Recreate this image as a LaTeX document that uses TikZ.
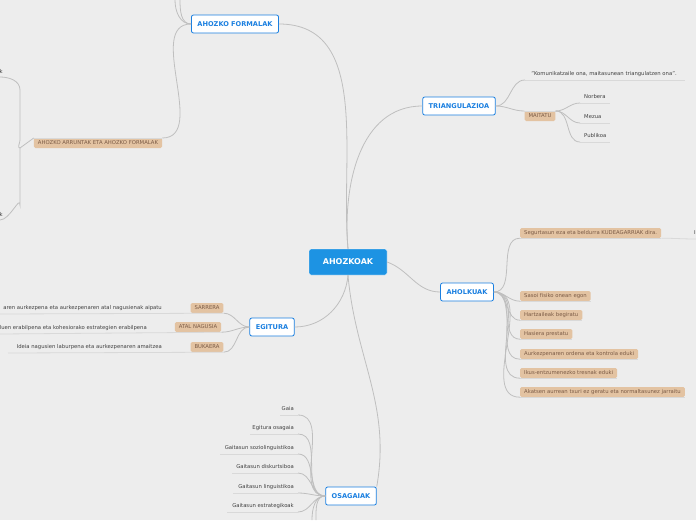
\documentclass[tikz,border=0pt]{standalone}
\usepackage{fontspec}
\setmainfont[Ligatures=NoCommon]{DejaVu Sans}
\begin{document}
\begin{tikzpicture}[x=1pt,y=-1pt,
  conn/.style={draw=black!25,line width=0.8pt},
  ul/.style={draw=black!15,line width=0.8pt},
  root/.style={draw=white,fill=rootblue,rounded corners=2pt,text=white,font=\bfseries\fontsize{8}{9}\selectfont,minimum width=78pt,minimum height=26pt},
  br/.style={draw=branchblue,line width=0.8pt,fill=white,rounded corners=2pt,text=branchblue,font=\bfseries\fontsize{6.6}{7}\selectfont,minimum height=18pt,inner xsep=6pt},
  leaf/.style={fill=leafbg,rounded corners=1.5pt,text=leaftext,font=\fontsize{5.3}{6}\selectfont,minimum height=10pt,inner xsep=4pt,inner ysep=1pt},
  txt/.style={text=black!75,font=\fontsize{5.3}{6}\selectfont,inner sep=1pt}]
\definecolor{rootblue}{HTML}{1D93E3}
\definecolor{branchblue}{HTML}{1A7FE0}
\definecolor{leafbg}{HTML}{E3C3A2}
\definecolor{leaftext}{HTML}{7A5A45}
\fill[black!7] (0,0) rectangle (696,520);
\useasboundingbox (0,0) rectangle (696,520);

\node[root] (root) at (348,262) {AHOZKOAK};

% AHOZKO FORMALAK
\node[br] (af) at (235,24) {AHOZKO FORMALAK};
\coordinate (t1) at (175,0); \coordinate (t2) at (180,0);
\draw[conn] (af.west) to[out=180,in=270] (t1);
\draw[conn] (af.west) to[out=180,in=270] (t2);
\node[leaf] (aa) at (98,143) {AHOZKO ARRUNTAK ETA AHOZKO FORMALAK};
\draw[conn] (af.west) to[out=180,in=0] ([yshift=5]aa.east);
\draw[ul] ([yshift=5]aa.west) -- ([yshift=5]aa.east);
\coordinate (k1) at (0,77); \coordinate (k2) at (0,220);
\node[txt,anchor=south east] (k1t) at (4,75) {k};
\node[txt,anchor=south east] (k2t) at (4,218) {k};
\draw[conn] ([yshift=5]aa.west) -- (20,148) to[out=180,in=270] (20,140) -- (20,90) to[out=90,in=0] (k1);
\draw[conn] (20,148) -- (20,205) to[out=90,in=0] (k2);
\draw[conn] (af.east) to[out=0,in=95] (root.north);

% TRIANGULAZIOA
\node[br] (tr) at (459,106) {TRIANGULAZIOA};
\draw[conn] (root.north) to[out=95,in=180] (tr.west);
\node[txt] (q) at (604,74) {"Komunikatzaile ona, maitasunean triangulatzen ona".};
\draw[ul] (525,80) -- (685,80);
\draw[conn] (tr.east) to[out=0,in=180] (525,80);
\node[leaf] (mai) at (540,116) {MAITATU};
\draw[conn] (tr.east) to[out=0,in=180] ([yshift=5]mai.west);
\draw[ul] ([yshift=5]mai.west) -- ([yshift=5]mai.east);
\foreach \n/\lbl/\y in {nor/Norbera/97,mez/Mezua/117,pub/Publikoa/136}{
  \node[txt,anchor=west] (\n) at (583,\y) {\lbl};
  \draw[ul] (580,\y+6) -- (610,\y+6);
  \draw[conn] ([yshift=5]mai.east) to[out=0,in=180] (580,\y+6);
}

% AHOLKUAK
\node[br] (ah) at (467,292) {AHOLKUAK};
\draw[conn] (root.east) to[out=-20,in=180] (ah.west);
\foreach \n/\lbl/\y in {
  l1/{Segurtasun eza eta beldurra KUDEAGARRIAK dira.}/233,
  l2/{Sasoi fisiko onean egon}/296,
  l3/{Hartzaileak begiratu}/315,
  l4/{Hasiera prestatu}/334,
  l5/{Aurkezpenaren ordena eta kontrola eduki}/354,
  l6/{Ikus-entzumenezko tresnak eduki}/373,
  l7/{Akatsen aurrean txuri ez geratu eta normaltasunez jarraitu}/392}{
  \node[leaf,anchor=west] (\n) at (520,\y) {\lbl};
  \draw[ul] (\n.south west) -- (\n.south east);
  \draw[conn] (ah.east) to[out=0,in=180] (\n.south west);
}
\draw[ul] (l1.south east) to[out=0,in=180] (696,239);
\node[txt,anchor=west] (cut) at (693,233) {I};

% EGITURA
\node[br] (eg) at (272,327) {EGITURA};
\draw[conn] (root.south) to[out=-95,in=0] (eg.east);
\node[leaf] (sa) at (207,308) {SARRERA};
\node[leaf] (an) at (198,327) {ATAL NAGUSIA};
\node[leaf] (bu) at (207,347) {BUKAERA};
\foreach \n in {sa,an,bu}{
  \draw[conn] (eg.west) to[out=180,in=0] (\n.south east);
}
\node[txt,anchor=east] (st) at (163,308) {aren aurkezpena eta aurkezpenaren atal nagusienak aipatu};
\draw[ul] (0,314) -- (sa.south east);
\node[txt,anchor=east] (at) at (148,328) {luen erabilpena eta kohesiorako estrategien erabilpena};
\draw[ul] (0,334) -- (an.south east);
\node[txt,anchor=east] (bt) at (163,347) {Ideia nagusien laburpena eta aurkezpenaren amaitzea};
\draw[ul] (8,353) -- (bu.south east);

% OSAGAIAK
\node[br] (os) at (351,496) {OSAGAIAK};
\draw[conn] (root.south) to[out=-85,in=80] (os.north east);
\foreach \n/\lbl/\y/\x in {
  o1/Gaia/409/280, o2/{Egitura osagaia}/428/250, o3/{Gaitasun soziolinguistikoa}/448/220,
  o4/{Gaitasun diskurtsiboa}/467/232, o5/{Gaitasun linguistikoa}/487/233, o6/{Gaitasun estrategikoak}/506/227}{
  \node[txt,anchor=east] (\n) at (295,\y) {\lbl};
  \draw[ul] (\x,\y+6) -- (298,\y+6);
  \draw[conn] (298,\y+6) to[out=0,in=180] (os.west);
}
\coordinate (ob1) at (312,520); \coordinate (ob2) at (316,520);
\draw[conn] (os.west) to[out=180,in=90] (ob1);
\draw[conn] (os.west) to[out=180,in=90] (ob2);
\end{tikzpicture}
\end{document}
